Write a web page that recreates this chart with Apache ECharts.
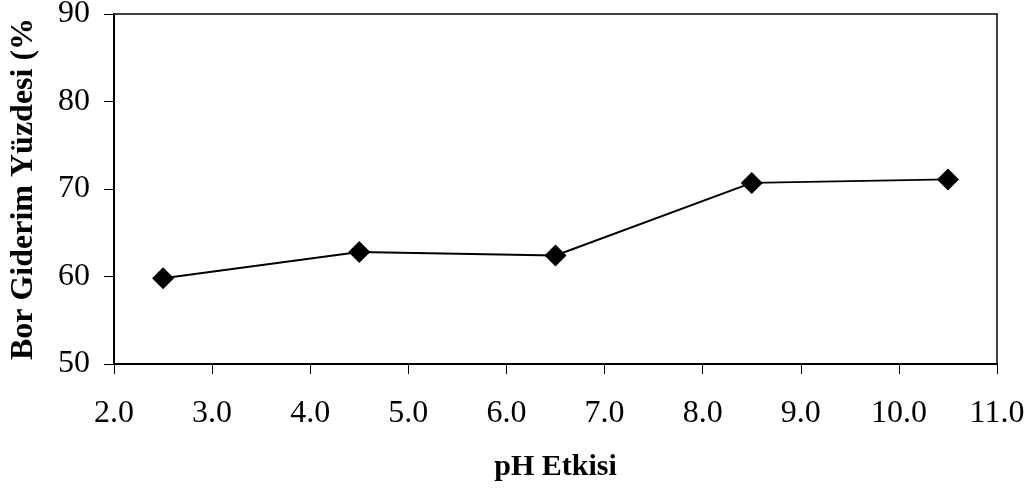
<!DOCTYPE html>
<html>
<head>
<meta charset="utf-8">
<script src="https://cdn.jsdelivr.net/npm/echarts@6/dist/echarts.min.js"></script>
<style>
html,body{margin:0;padding:0;background:#fff;}
#chart{width:1035px;height:492px;}
</style>
</head>
<body>
<div id="chart"></div>
<script>
const phValues = [2.5, 4.5, 6.5, 8.5, 10.5];
const removalPercent = [59.8, 62.8, 62.4, 70.7, 71.1];
const xTitle = 'pH Etkisi';
const yTitle = 'Bor Giderim Yüzdesi (%';

const FONT = '"Liberation Serif", "Times New Roman", serif';
const chart = echarts.init(document.getElementById('chart'), null, {renderer: 'canvas'});
chart.setOption({
  animation: false,
  backgroundColor: '#ffffff',
  grid: {
    left: 114, right: 38, top: 14, bottom: 128,
    outerBoundsMode: 'none', containLabel: false,
    show: true, borderColor: '#000', borderWidth: 1.5, backgroundColor: 'transparent'
  },
  xAxis: {
    type: 'value', min: 2, max: 11, interval: 1,
    name: xTitle, nameLocation: 'middle', nameGap: 88,
    nameTextStyle: {fontFamily: FONT, fontSize: 30, fontWeight: 'bold', color: '#000'},
    axisLine: {show: true, onZero: false, lineStyle: {color: '#000', width: 2}},
    axisTick: {show: true, inside: false, length: 10, lineStyle: {color: '#000', width: 1}},
    axisLabel: {margin: 34, fontFamily: FONT, fontSize: 32, color: '#000',
      formatter: v => v.toFixed(1)},
    splitLine: {show: false}
  },
  yAxis: {
    type: 'value', min: 50, max: 90, interval: 10,
    name: yTitle, nameLocation: 'middle', nameGap: 74, nameRotate: 90,
    nameTextStyle: {fontFamily: FONT, fontSize: 32, fontWeight: 'bold', color: '#000'},
    axisLine: {show: true, lineStyle: {color: '#000', width: 2}},
    axisTick: {show: true, inside: false, length: 10, lineStyle: {color: '#000', width: 1}},
    axisLabel: {margin: 24, fontFamily: FONT, fontSize: 32, color: '#000'},
    splitLine: {show: false}
  },
  series: [{
    type: 'line',
    data: phValues.map((x, i) => [x, removalPercent[i]]),
    symbol: 'diamond', symbolSize: 22,
    lineStyle: {color: '#000', width: 2},
    itemStyle: {color: '#000'},
    z: 3
  }]
});
</script>
</body>
</html>
